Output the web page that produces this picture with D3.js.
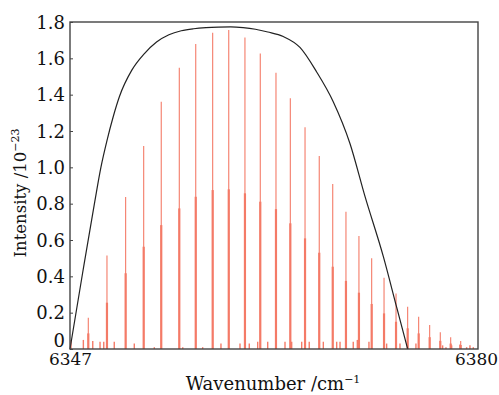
<!DOCTYPE html>
<html>
<head>
<meta charset="utf-8">
<script src="https://cdn.jsdelivr.net/npm/d3@7"></script>
<style>
html,body{margin:0;padding:0;background:#fff;}
svg text{font-family:"DejaVu Serif",serif;fill:#111;}
</style>
</head>
<body>
<svg id="chart" width="499" height="395"></svg>
<script>
// Strong lines: wavenumber offset from 6347 (cm^-1), peak intensity, companion (half) intensity
const lineOffsets = [1.48,2.99,4.50,5.96,7.38,8.84,10.17,11.54,12.84,14.15,15.39,16.66,17.82,19.01,20.16,21.25,22.32,23.37,24.40,25.40,26.37,27.31,28.20,29.09,29.95,30.79,31.60];
const lineMain = [0.172,0.514,0.837,1.117,1.361,1.548,1.679,1.741,1.756,1.715,1.627,1.521,1.380,1.220,1.062,0.908,0.756,0.622,0.499,0.392,0.306,0.233,0.178,0.132,0.092,0.064,0.044];
const lineCompanion = [0.086,0.255,0.417,0.563,0.682,0.774,0.838,0.875,0.879,0.857,0.811,0.770,0.692,0.609,0.530,0.453,0.375,0.310,0.248,0.196,0.150,0.114,0.086,0.065,0.045,0.030,0.022];
// Weak lines
const weakOffsets = [0.08,1.08,1.84,2.43,2.73,3.58,5.20,6.82,9.12,10.73,12.21,13.75,14.50,15.18,15.99,17.39,17.93,18.74,19.35,20.49,21.57,21.84,22.91,23.24,24.18,25.61,26.69,27.98,30.14,30.41,30.87,31.54,32.08,32.35,32.62];
const weakValues = [0.05,0.05,0.044,0.04,0.04,0.04,0.03,0.01,0.01,0.01,0.03,0.03,0.03,0.04,0.04,0.04,0.04,0.04,0.04,0.04,0.04,0.04,0.04,0.05,0.04,0.03,0.03,0.03,0.02,0.01,0.02,0.025,0.01,0.02,0.01];
// Envelope (filter) curve
const curveOffsets = [0,1,2,2.5,3,3.5,4,5,6,7,8,9,10,11,12,13,14,15,16,17.25,18.6,19.95,21.3,22.65,23.86,25.34,26.42,27.31];
const curveValues = [0,0.41,0.81,1.0,1.15,1.28,1.39,1.535,1.625,1.69,1.73,1.752,1.763,1.769,1.772,1.773,1.769,1.76,1.745,1.72,1.66,1.525,1.36,1.13,0.84,0.51,0.23,0];
const yTicks = [0,0.2,0.4,0.6,0.8,1.0,1.2,1.4,1.6,1.8];
const yTickLabels = ["0","0.2","0.4","0.6","0.8","1.0","1.2","1.4","1.6","1.8"];
const xTicks = [6347,6380];
const xStart = 6347;

const svg = d3.select("#chart");
const L = 70, R = 478, T = 22, B = 349;
const x = d3.scaleLinear().domain([6347,6380]).range([L,R]);
const y = d3.scaleLinear().domain([0,1.8]).range([B,T]);

const red = "#f47b68";
// weak lines
svg.append("g").selectAll("line").data(weakOffsets).join("line")
  .attr("x1",(d)=>x(xStart+d)).attr("x2",(d)=>x(xStart+d))
  .attr("y1",y(0)).attr("y2",(d,i)=>y(weakValues[i]))
  .attr("stroke",red).attr("stroke-width",1.4);
// companion lines
svg.append("g").selectAll("line").data(lineOffsets).join("line")
  .attr("x1",(d)=>x(xStart+d)).attr("x2",(d)=>x(xStart+d))
  .attr("y1",y(0)).attr("y2",(d,i)=>y(lineCompanion[i]))
  .attr("stroke",red).attr("stroke-width",2.2);
// main lines
svg.append("g").selectAll("line").data(lineOffsets).join("line")
  .attr("x1",(d)=>x(xStart+d)).attr("x2",(d)=>x(xStart+d))
  .attr("y1",y(0)).attr("y2",(d,i)=>y(lineMain[i]))
  .attr("stroke",red).attr("stroke-width",1.1);

// envelope curve
const pts = curveOffsets.map((d,i)=>[xStart+d,curveValues[i]]);
svg.append("path").datum(pts)
  .attr("d",d3.line().x(d=>x(d[0])).y(d=>y(d[1])).curve(d3.curveMonotoneX))
  .attr("fill","none").attr("stroke","#222").attr("stroke-width",1.2);

// frame
svg.append("rect").attr("x",L).attr("y",T).attr("width",R-L).attr("height",B-T)
  .attr("fill","none").attr("stroke","#444").attr("stroke-width",1.4);

// y axis (ticks inward)
const yAxis = d3.axisLeft(y).tickValues(yTicks).tickSize(-3).tickPadding(5)
  .tickFormat((d,i)=>yTickLabels[i]);
const gy = svg.append("g").attr("transform",`translate(${L},0)`).call(yAxis);
gy.select(".domain").remove();
gy.selectAll(".tick line").attr("stroke","#444");
gy.selectAll("text").attr("font-size",18).attr("font-family","DejaVu Serif").attr("fill","#111")
  .attr("dy",(d)=> d===0 ? "-0.15em" : "0.34em");

// x axis labels
const xAxis = d3.axisBottom(x).tickValues(xTicks).tickSize(0).tickPadding(4).tickFormat(d3.format("d"));
const gx = svg.append("g").attr("transform",`translate(0,${B})`).call(xAxis);
gx.select(".domain").remove();
gx.selectAll("text").attr("font-size",17).attr("font-family","DejaVu Serif").attr("fill","#111")
  .attr("dx",(d)=> d===6380 ? -2 : 0);

// axis titles
const xt = svg.append("text").attr("x",273).attr("y",390).attr("text-anchor","middle").attr("font-size",18);
xt.append("tspan").text("Wavenumber /cm");
xt.append("tspan").text("−1").attr("font-size",11).attr("dy",-7);

const yt = svg.append("text").attr("transform","translate(26,193) rotate(-90)").attr("text-anchor","middle").attr("font-size",16.5);
yt.append("tspan").text("Intensity /10");
yt.append("tspan").text("−23").attr("font-size",11).attr("dy",-7);
</script>
</body>
</html>
